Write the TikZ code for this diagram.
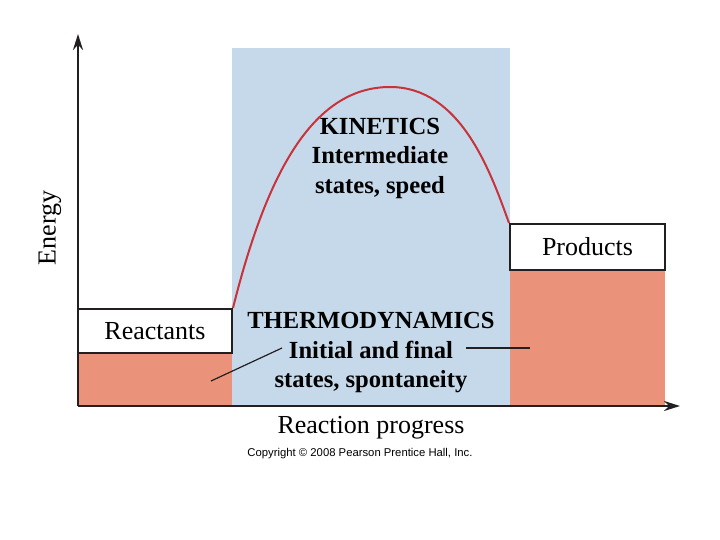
\documentclass[tikz,border=0pt]{standalone}
\usepackage{fontspec}
\setmainfont{Liberation Serif}
\newfontfamily\copyfont{Liberation Sans}
\definecolor{PanelBlue}{HTML}{C6D9EA}
\definecolor{LevelRed}{HTML}{EA937A}
\definecolor{CurveRed}{HTML}{C8323A}
\definecolor{AxisInk}{HTML}{231F20}
\usetikzlibrary{arrows.meta, positioning}

\begin{document}
\begin{tikzpicture}[
  x=1pt, y=-1pt,
  axis/.style={-{Stealth[length=16pt, width=10pt]}, line width=2.4pt, color=AxisInk},
  level/.style={rectangle, draw=AxisInk, line width=2pt, fill=white,
    inner sep=0pt, font=\fontsize{26}{29}\selectfont},
  heading/.style={font=\fontsize{24.6}{29.5}\selectfont\bfseries, align=center},
  lead/.style={line width=1.2pt, color=AxisInk},
  curve/.style={line width=2pt, color=CurveRed},
]
\useasboundingbox (0,0) rectangle (720,540);

% shaded regions
\fill[PanelBlue] (232,48) rectangle (510,406);
\fill[LevelRed] (78,353) rectangle (232,406);
\fill[LevelRed] (510,270) rectangle (665,406);

% energy levels
\node[level, minimum width=154pt, minimum height=44pt] (react) at (155,331) {Reactants};
\node[level, minimum width=155pt, minimum height=46pt] (prod) at (587.5,247) {Products};

% reaction path
\draw[curve] (react.north east) .. controls (265,180) and (310,87) .. (390,87)
  .. controls (460,87) and (490,170) .. (prod.north west);

% texts
\node[heading] (kin) at (380,158) {KINETICS\\Intermediate\\states, speed};
\node[heading] (thermo) at (371,353) {THERMODYNAMICS\\Initial and final\\states, spontaneity};

% leader lines
\coordinate (tipL) at (211,381);
\coordinate (tipR) at (530,348);
\draw[lead] (282,348) -- (tipL);
\draw[lead] (466,348) -- (tipR);

% axes
\coordinate (origin) at (78,406);
\coordinate (ytop) at (78,34);
\coordinate (xend) at (680,406);
\draw[axis] (origin) -- (ytop);
\draw[axis] (origin) -- (xend);

\node[rotate=90, font=\fontsize{26}{29}\selectfont] (energy) at (50,228) {Energy};
\node[font=\fontsize{26}{29}\selectfont] (prog) at (371,428) {Reaction progress};
\node[font=\fontsize{11.3}{13}\selectfont\copyfont] (copy) at (360,454) {Copyright \textcopyright{} 2008 Pearson Prentice Hall, Inc.};
\end{tikzpicture}
\end{document}
